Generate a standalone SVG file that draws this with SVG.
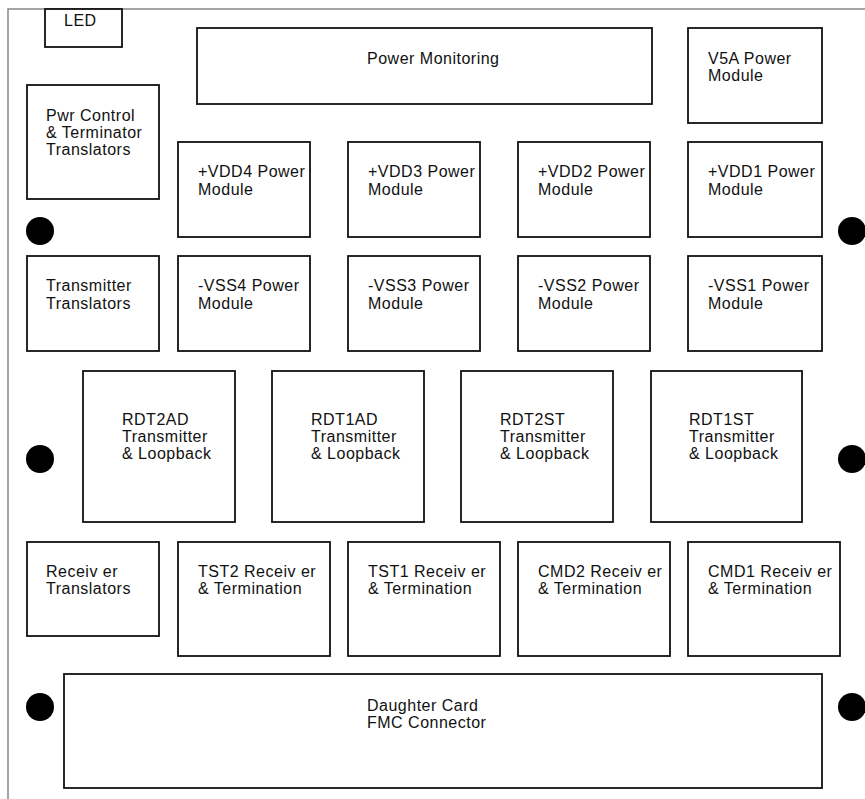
<svg xmlns="http://www.w3.org/2000/svg" width="865" height="799" viewBox="0 0 865 799">
<style>
.b{fill:#fff;stroke:#111;stroke-width:1.8}
.t{font-family:"Liberation Sans",Arial,sans-serif;font-size:16px;letter-spacing:0.5px;fill:#111}
.h{fill:#000}
</style>
<rect x="0" y="0" width="865" height="799" fill="#fff"/>
<rect x="8" y="9" width="870" height="800" fill="#fff" stroke="#888" stroke-width="1.5"/>
<g id="led"><rect class="b" x="45" y="9" width="77" height="38"/><text class="t" x="64" y="26">LED</text></g>
<g id="power-monitoring"><rect class="b" x="197" y="28" width="455" height="76"/><text class="t" x="367" y="64">Power Monitoring</text></g>
<g id="v5a"><rect class="b" x="688" y="28" width="134" height="95"/><text class="t" x="708" y="64">V5A Power</text><text class="t" x="708" y="81">Module</text></g>
<g id="pwr-control"><rect class="b" x="27" y="85" width="132" height="114"/><text class="t" x="46" y="121">Pwr Control</text><text class="t" x="46" y="138">&amp; Terminator</text><text class="t" x="46" y="155">Translators</text></g>
<g id="vdd4"><rect class="b" x="178" y="142" width="132" height="95"/><text class="t" x="198" y="177">+VDD4 Power</text><text class="t" x="198" y="195">Module</text></g>
<g id="vdd3"><rect class="b" x="348" y="142" width="132" height="95"/><text class="t" x="368" y="177">+VDD3 Power</text><text class="t" x="368" y="195">Module</text></g>
<g id="vdd2"><rect class="b" x="518" y="142" width="132" height="95"/><text class="t" x="538" y="177">+VDD2 Power</text><text class="t" x="538" y="195">Module</text></g>
<g id="vdd1"><rect class="b" x="688" y="142" width="134" height="95"/><text class="t" x="708" y="177">+VDD1 Power</text><text class="t" x="708" y="195">Module</text></g>
<g id="tx-translators"><rect class="b" x="27" y="256" width="132" height="95"/><text class="t" x="46" y="291">Transmitter</text><text class="t" x="46" y="309">Translators</text></g>
<g id="vss4"><rect class="b" x="178" y="256" width="132" height="95"/><text class="t" x="198" y="291">-VSS4 Power</text><text class="t" x="198" y="309">Module</text></g>
<g id="vss3"><rect class="b" x="348" y="256" width="132" height="95"/><text class="t" x="368" y="291">-VSS3 Power</text><text class="t" x="368" y="309">Module</text></g>
<g id="vss2"><rect class="b" x="518" y="256" width="132" height="95"/><text class="t" x="538" y="291">-VSS2 Power</text><text class="t" x="538" y="309">Module</text></g>
<g id="vss1"><rect class="b" x="688" y="256" width="134" height="95"/><text class="t" x="708" y="291">-VSS1 Power</text><text class="t" x="708" y="309">Module</text></g>
<g id="rdt2ad"><rect class="b" x="83" y="371" width="152" height="151"/><text class="t" x="122" y="425">RDT2AD</text><text class="t" x="122" y="442">Transmitter</text><text class="t" x="122" y="459">&amp; Loopback</text></g>
<g id="rdt1ad"><rect class="b" x="272" y="371" width="152" height="151"/><text class="t" x="311" y="425">RDT1AD</text><text class="t" x="311" y="442">Transmitter</text><text class="t" x="311" y="459">&amp; Loopback</text></g>
<g id="rdt2st"><rect class="b" x="461" y="371" width="152" height="151"/><text class="t" x="500" y="425">RDT2ST</text><text class="t" x="500" y="442">Transmitter</text><text class="t" x="500" y="459">&amp; Loopback</text></g>
<g id="rdt1st"><rect class="b" x="651" y="371" width="151" height="151"/><text class="t" x="689" y="425">RDT1ST</text><text class="t" x="689" y="442">Transmitter</text><text class="t" x="689" y="459">&amp; Loopback</text></g>
<g id="rx-translators"><rect class="b" x="27" y="542" width="132" height="94"/><text class="t" x="46" y="577">Receiv er</text><text class="t" x="46" y="594">Translators</text></g>
<g id="tst2"><rect class="b" x="178" y="542" width="152" height="114"/><text class="t" x="198" y="577">TST2 Receiv er</text><text class="t" x="198" y="594">&amp; Termination</text></g>
<g id="tst1"><rect class="b" x="348" y="542" width="152" height="114"/><text class="t" x="368" y="577">TST1 Receiv er</text><text class="t" x="368" y="594">&amp; Termination</text></g>
<g id="cmd2"><rect class="b" x="518" y="542" width="152" height="114"/><text class="t" x="538" y="577">CMD2 Receiv er</text><text class="t" x="538" y="594">&amp; Termination</text></g>
<g id="cmd1"><rect class="b" x="688" y="542" width="152" height="114"/><text class="t" x="708" y="577">CMD1 Receiv er</text><text class="t" x="708" y="594">&amp; Termination</text></g>
<g id="fmc"><rect class="b" x="64" y="674" width="758" height="114"/><text class="t" x="367" y="711">Daughter Card</text><text class="t" x="367" y="728">FMC Connector</text></g>
<g id="holes">
<circle class="h" cx="40" cy="231" r="14"/><circle class="h" cx="40" cy="459" r="14"/><circle class="h" cx="40" cy="707" r="14"/>
<circle class="h" cx="852" cy="231" r="14"/><circle class="h" cx="852" cy="459" r="14"/><circle class="h" cx="852" cy="707" r="14"/>
</g>
<g id="connectors"/>
</svg>
